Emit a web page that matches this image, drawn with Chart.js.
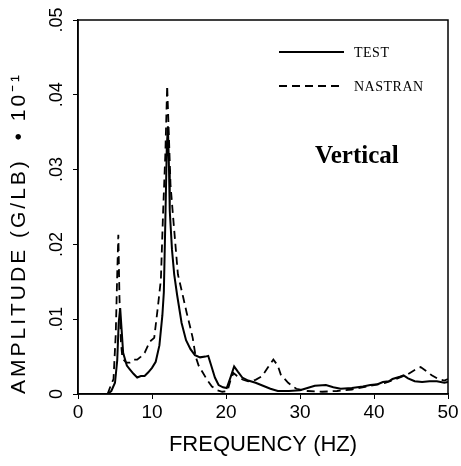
<!DOCTYPE html>
<html>
<head>
<meta charset="utf-8">
<script src="https://cdn.jsdelivr.net/npm/chart.js@4.4.0/dist/chart.umd.min.js"></script>
<style>
    body { margin: 0; background: #fff; }
    #wrap { width: 461px; height: 466px; }
</style>
</head>
<body>
<div id="wrap"><canvas id="ampChart"></canvas></div>
<script>
// frequency (Hz) / amplitude pairs
const testFreq = [4.0, 4.5, 5.0, 5.3, 5.5, 5.7, 5.9, 6.1, 6.6, 7.0, 7.5, 8.0, 8.5, 9.0, 9.5, 10.0, 10.5, 11.0, 11.4, 11.6, 11.8, 12.0, 12.15, 12.3, 12.4, 12.7, 13.0, 13.4, 14.0, 14.6, 15.2, 15.8, 16.5, 17.2, 17.6, 18.0, 18.5, 19.0, 19.6, 20.1, 20.6, 21.1, 21.6, 22.2, 23.0, 24.0, 25.0, 26.0, 27.0, 28.5, 30.0, 31.0, 32.0, 33.5, 34.5, 35.5, 37.0, 38.5, 39.5, 40.5, 41.2, 42.0, 42.5, 43.5, 44.0, 44.6, 45.5, 46.5, 47.5, 48.5, 49.5, 50.0];
const testAmp = [0, 0.0004, 0.0015, 0.0045, 0.0095, 0.0115, 0.0085, 0.0055, 0.0038, 0.0033, 0.0027, 0.0022, 0.0024, 0.0024, 0.0029, 0.0035, 0.0043, 0.0065, 0.0105, 0.0136, 0.0230, 0.0330, 0.0358, 0.0300, 0.0245, 0.0193, 0.0160, 0.0132, 0.0095, 0.0072, 0.0060, 0.0052, 0.0049, 0.0050, 0.0051, 0.0038, 0.0022, 0.0012, 0.0009, 0.0008, 0.0022, 0.0037, 0.0030, 0.0022, 0.0018, 0.0015, 0.0011, 0.0007, 0.0004, 0.0004, 0.0005, 0.0008, 0.0011, 0.0012, 0.0009, 0.0007, 0.0008, 0.0010, 0.0012, 0.0013, 0.0016, 0.0017, 0.0020, 0.0023, 0.0025, 0.0021, 0.0017, 0.0016, 0.0017, 0.0017, 0.0015, 0.0016];

const nastranFreq = [4.0, 4.3, 4.8, 5.1, 5.3, 5.45, 5.6, 5.8, 6.0, 6.5, 7.0, 7.5, 8.0, 8.5, 9.0, 9.7, 10.3, 10.8, 11.2, 11.5, 11.8, 12.05, 12.3, 12.5, 12.8, 13.5, 14.2, 14.7, 15.1, 15.5, 15.9, 16.3, 16.9, 17.5, 18.1, 18.8, 19.5, 20.2, 20.6, 21.0, 21.5, 22.3, 23.0, 24.0, 24.9, 25.7, 26.4, 27.0, 27.4, 28.4, 29.5, 31.0, 33.0, 35.0, 37.0, 39.0, 40.0, 41.5, 43.0, 44.5, 45.5, 46.3, 47.0, 47.8, 48.7, 49.5, 50.0];
const nastranAmp = [0, 0.0008, 0.0020, 0.0080, 0.0160, 0.0213, 0.0130, 0.0070, 0.0048, 0.0042, 0.0042, 0.0046, 0.0046, 0.0050, 0.0055, 0.0070, 0.0075, 0.0117, 0.0153, 0.0243, 0.0320, 0.0412, 0.0340, 0.0280, 0.0243, 0.0160, 0.0130, 0.0108, 0.0092, 0.0075, 0.0050, 0.0038, 0.0028, 0.0018, 0.0010, 0.0005, 0.0003, 0.0004, 0.0018, 0.0028, 0.0024, 0.0019, 0.0017, 0.0019, 0.0024, 0.0036, 0.0046, 0.0038, 0.0026, 0.0015, 0.0007, 0.0004, 0.0003, 0.0004, 0.0006, 0.0010, 0.0012, 0.0015, 0.0020, 0.0026, 0.0032, 0.0036, 0.0031, 0.0025, 0.0020, 0.0018, 0.0020];

const xTicks = [0, 10, 20, 30, 40, 50];
const yTicks = [0, 0.01, 0.02, 0.03, 0.04, 0.05];

const toPoints = (xs, ys) => xs.map((x, i) => ({ x: x, y: ys[i] }));

const sansFont = "'Liberation Sans', Arial, sans-serif";
const serifFont = "'Liberation Serif', 'Times New Roman', serif";

// frame around the plot plus the in-plot legend and label
const framePlugin = {
    id: 'frame',
    afterDraw(chart) {
        const { ctx, chartArea: a } = chart;
        ctx.save();
        ctx.strokeStyle = '#000';
        ctx.lineWidth = 1.5;
        ctx.strokeRect(a.left, a.top, a.right - a.left, a.bottom - a.top);

        // legend
        const rows = [52, 86];
        chart.data.datasets.forEach((ds, i) => {
            ctx.beginPath();
            ctx.lineWidth = ds.borderWidth;
            ctx.setLineDash(ds.borderDash || []);
            ctx.moveTo(279, rows[i]);
            ctx.lineTo(344, rows[i]);
            ctx.stroke();
            ctx.setLineDash([]);
            ctx.fillStyle = '#000';
            ctx.font = '14px ' + serifFont;
            ctx.letterSpacing = '0.5px';
            ctx.textBaseline = 'middle';
            ctx.textAlign = 'left';
            ctx.fillText(ds.label, 354, rows[i] + 1);
            ctx.letterSpacing = '0px';
        });

        ctx.font = 'bold 25px ' + serifFont;
        ctx.textAlign = 'left';
        ctx.textBaseline = 'alphabetic';
        ctx.fillText('Vertical', 315, 163);
        ctx.restore();
    }
};

new Chart(document.getElementById('ampChart'), {
    type: 'line',
    data: {
        datasets: [{
            label: 'TEST',
            data: toPoints(testFreq, testAmp),
            borderColor: '#000',
            borderWidth: 2,
            pointRadius: 0,
            tension: 0
        }, {
            label: 'NASTRAN',
            data: toPoints(nastranFreq, nastranAmp),
            borderColor: '#000',
            borderWidth: 1.8,
            borderDash: [8, 5],
            pointRadius: 0,
            tension: 0
        }]
    },
    options: {
        responsive: true,
        maintainAspectRatio: false,
        animation: false,
        layout: { padding: { top: 20, right: 13, left: 0, bottom: 0 } },
        plugins: {
            legend: { display: false },
            tooltip: { enabled: false }
        },
        scales: {
            x: {
                type: 'linear',
                min: 0,
                max: 50,
                afterFit: (scale) => { scale.height = 72; },
                afterBuildTicks: (scale) => { scale.ticks = xTicks.map(v => ({ value: v })); },
                grid: { drawOnChartArea: false, color: '#000', tickLength: 5 },
                border: { color: '#000', width: 1.5 },
                ticks: {
                    color: '#000',
                    padding: 2,
                    maxRotation: 0,
                    font: { family: sansFont, size: 19 }
                },
                title: {
                    display: true,
                    text: 'FREQUENCY (HZ)',
                    color: '#000',
                    padding: { top: 0, bottom: 8 },
                    font: { family: sansFont, size: 22 }
                }
            },
            y: {
                min: 0,
                max: 0.05,
                afterFit: (scale) => {
                    scale.width = 78;
                    // the scanned axis title is set wide, so space its letters out
                    if (!scale.spacedTitle) {
                        const drawTitle = scale.drawTitle;
                        scale.drawTitle = function () {
                            this.ctx.letterSpacing = '3px';
                            drawTitle.call(this);
                            this.ctx.letterSpacing = '0px';
                        };
                        scale.spacedTitle = true;
                    }
                },
                afterBuildTicks: (scale) => { scale.ticks = yTicks.map(v => ({ value: v })); },
                grid: { drawOnChartArea: false, color: '#000', tickLength: 5 },
                border: { color: '#000', width: 1.5 },
                ticks: {
                    color: '#000',
                    minRotation: 90,
                    maxRotation: 90,
                    crossAlign: 'center',
                    padding: 3,
                    font: { family: sansFont, size: 18 },
                    callback: (v) => v === 0 ? '0' : v.toFixed(2).replace(/^0/, '')
                },
                title: {
                    display: true,
                    align: 'start',
                    text: 'AMPLITUDE (G/LB)  \u2022 10\u207B\u00B9',
                    color: '#000',
                    padding: { top: 7, bottom: 0 },
                    font: { family: sansFont, size: 21 }
                }
            }
        }
    },
    plugins: [framePlugin]
});
</script>
</body>
</html>
